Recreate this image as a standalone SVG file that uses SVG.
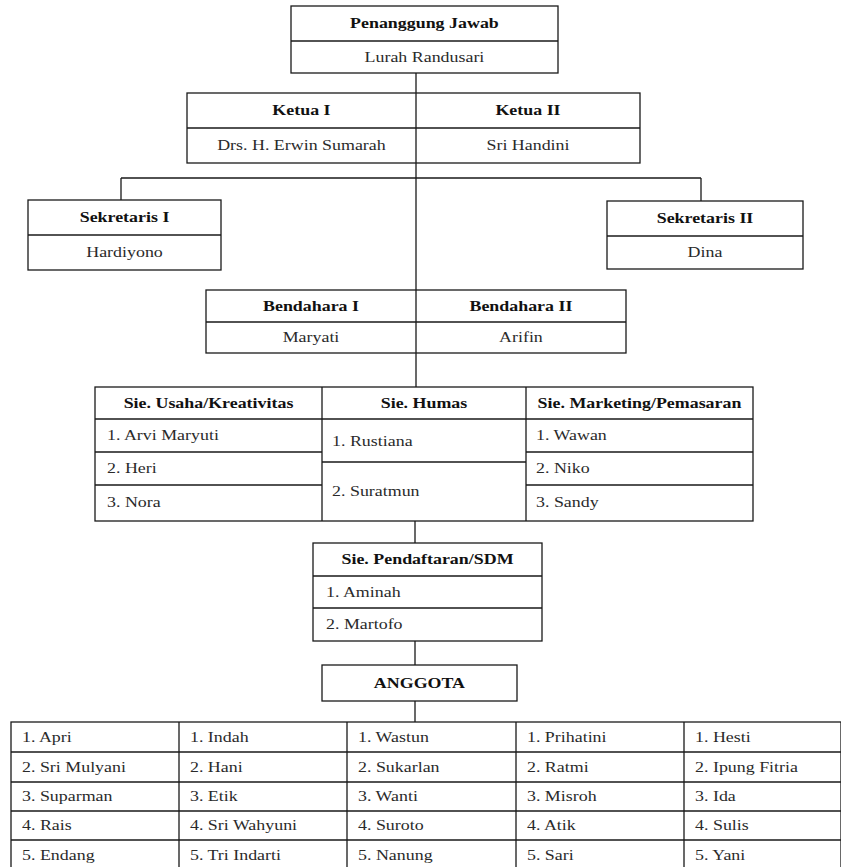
<svg xmlns="http://www.w3.org/2000/svg" width="841" height="867" viewBox="0 0 841 867">
<style>
.box{fill:#fff;stroke:#1a1a1a;stroke-width:1.3}
.ln{fill:none;stroke:#1a1a1a;stroke-width:1.3}
text{font-family:"Liberation Serif","Times New Roman",serif;font-size:14px}
.h{font-weight:bold;text-anchor:middle;fill:#111}
.c{text-anchor:middle;fill:#2a2a2a}
.t{fill:#2a2a2a}
</style>
<rect width="841" height="867" fill="#fff"/>
<g id="connectors">
<path class="ln" d="M416 73V93M416 163V290M416 353V387M121 178H701M121 178V200M701 178V201M415 521V543M415 641V665M415 701V722"/>
</g>
<g id="penanggung-jawab">
<rect class="box" x="291" y="6" width="267" height="67"/>
<path class="ln" d="M291 41H558"/>
<g transform="scale(1.28 1)">
<text class="h" x="331.6" y="28">Penanggung Jawab</text>
<text class="c" x="331.6" y="62">Lurah Randusari</text>
</g>
</g>
<g id="ketua">
<rect class="box" x="187" y="93" width="453" height="70"/>
<path class="ln" d="M187 128H640M416 93V163"/>
<g transform="scale(1.28 1)">
<text class="h" x="235.5" y="115">Ketua I</text>
<text class="h" x="412.5" y="115">Ketua II</text>
<text class="c" x="235.5" y="150">Drs. H. Erwin Sumarah</text>
<text class="c" x="412.5" y="150">Sri Handini</text>
</g>
</g>
<g id="sekretaris-1">
<rect class="box" x="28" y="200" width="193" height="70"/>
<path class="ln" d="M28 235H221"/>
<g transform="scale(1.28 1)">
<text class="h" x="97.3" y="222">Sekretaris I</text>
<text class="c" x="97.3" y="257">Hardiyono</text>
</g>
</g>
<g id="sekretaris-2">
<rect class="box" x="607" y="201" width="196" height="68"/>
<path class="ln" d="M607 236H803"/>
<g transform="scale(1.28 1)">
<text class="h" x="550.8" y="223">Sekretaris II</text>
<text class="c" x="550.8" y="257">Dina</text>
</g>
</g>
<g id="bendahara">
<rect class="box" x="206" y="290" width="420" height="63"/>
<path class="ln" d="M206 322H626M416 290V353"/>
<g transform="scale(1.28 1)">
<text class="h" x="243" y="311">Bendahara I</text>
<text class="h" x="407" y="311">Bendahara II</text>
<text class="c" x="243" y="342">Maryati</text>
<text class="c" x="407" y="342">Arifin</text>
</g>
</g>
<g id="seksi">
<rect class="box" x="95" y="387" width="658" height="134"/>
<path class="ln" d="M95 419H753M322 387V521M526 387V521M95 452H322M95 485H322M526 452H753M526 485H753M322 462H526"/>
<g transform="scale(1.28 1)">
<text class="h" x="162.9" y="408">Sie. Usaha/Kreativitas</text>
<text class="h" x="331.25" y="408">Sie. Humas</text>
<text class="h" x="499.6" y="408">Sie. Marketing/Pemasaran</text>
<text class="t" x="83.6" y="440">1. Arvi Maryuti</text>
<text class="t" x="83.6" y="473">2. Heri</text>
<text class="t" x="83.6" y="507">3. Nora</text>
<text class="t" x="259.4" y="446">1. Rustiana</text>
<text class="t" x="259.4" y="496">2. Suratmun</text>
<text class="t" x="418.75" y="440">1. Wawan</text>
<text class="t" x="418.75" y="473">2. Niko</text>
<text class="t" x="418.75" y="507">3. Sandy</text>
</g>
</g>
<g id="pendaftaran">
<rect class="box" x="313" y="543" width="229" height="98"/>
<path class="ln" d="M313 576H542M313 608H542"/>
<g transform="scale(1.28 1)">
<text class="h" x="334" y="564">Sie. Pendaftaran/SDM</text>
<text class="t" x="254.7" y="597">1. Aminah</text>
<text class="t" x="254.7" y="629">2. Martofo</text>
</g>
</g>
<g id="anggota">
<rect class="box" x="322" y="665" width="195" height="36"/>
<g transform="scale(1.28 1)">
<text class="h" x="327.7" y="688">ANGGOTA</text>
</g>
</g>
<g id="anggota-list">
<rect class="box" x="11" y="722" width="830" height="150"/>
<path class="ln" d="M11 752H841M11 782H841M11 811H841M11 840H841M179 722V867M347 722V867M516 722V867M684 722V867"/>
<g transform="scale(1.28 1)">
<text class="t" x="17.2" y="742">1. Apri</text>
<text class="t" x="17.2" y="772">2. Sri Mulyani</text>
<text class="t" x="17.2" y="801">3. Suparman</text>
<text class="t" x="17.2" y="830">4. Rais</text>
<text class="t" x="17.2" y="860">5. Endang</text>
<text class="t" x="148.4" y="742">1. Indah</text>
<text class="t" x="148.4" y="772">2. Hani</text>
<text class="t" x="148.4" y="801">3. Etik</text>
<text class="t" x="148.4" y="830">4. Sri Wahyuni</text>
<text class="t" x="148.4" y="860">5. Tri Indarti</text>
<text class="t" x="279.7" y="742">1. Wastun</text>
<text class="t" x="279.7" y="772">2. Sukarlan</text>
<text class="t" x="279.7" y="801">3. Wanti</text>
<text class="t" x="279.7" y="830">4. Suroto</text>
<text class="t" x="279.7" y="860">5. Nanung</text>
<text class="t" x="411.7" y="742">1. Prihatini</text>
<text class="t" x="411.7" y="772">2. Ratmi</text>
<text class="t" x="411.7" y="801">3. Misroh</text>
<text class="t" x="411.7" y="830">4. Atik</text>
<text class="t" x="411.7" y="860">5. Sari</text>
<text class="t" x="543" y="742">1. Hesti</text>
<text class="t" x="543" y="772">2. Ipung Fitria</text>
<text class="t" x="543" y="801">3. Ida</text>
<text class="t" x="543" y="830">4. Sulis</text>
<text class="t" x="543" y="860">5. Yani</text>
</g>
</g>
</svg>
